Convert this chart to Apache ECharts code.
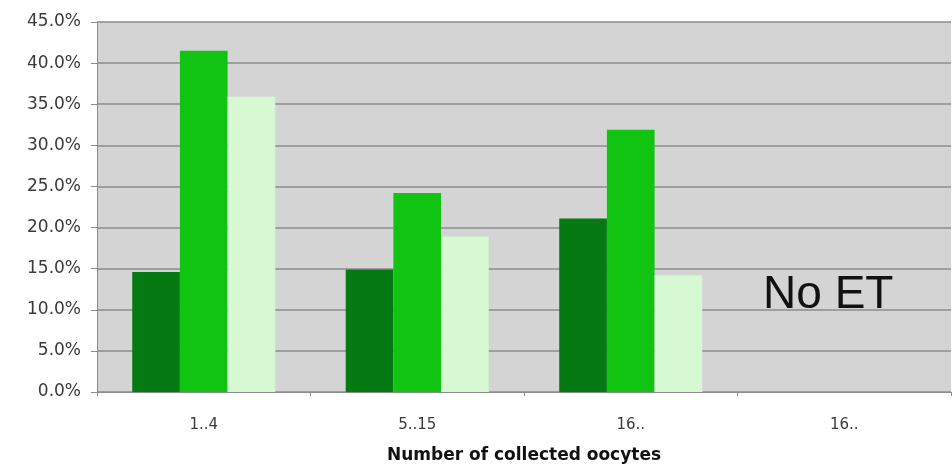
<!DOCTYPE html>
<html>
<head>
<meta charset="utf-8">
<script src="https://cdn.jsdelivr.net/npm/echarts@6/dist/echarts.min.js"></script>
<style>
  html, body { margin: 0; padding: 0; background: #ffffff; }
  #chart { width: 952px; height: 469px; }
</style>
</head>
<body>
<div id="chart"></div>
<script>
// Oocyte-count groups on the x axis
const categories = ['1..4', '5..15', '16..', '16..'];

// Rates (%) per group, three series
const seriesDark  = [14.6, 14.9, 21.1, null];
const seriesMid   = [41.5, 24.2, 31.9, null];
const seriesLight = [35.9, 18.9, 14.2, null];

// Y axis range and step (%)
const yMin = 0;
const yMax = 45;
const yStep = 5;

// Note shown over the last group, which has no bars
const noteText = 'No ET';
const noteCategoryIndex = 3;
const noteLevel = 11.7;

const chart = echarts.init(document.getElementById('chart'), null, { renderer: 'canvas' });

const gridColor = '#8c8c8c';
const labelFont = 'DejaVu Sans, Verdana, sans-serif';

function barSeries(name, data, color) {
  return {
    name: name,
    type: 'bar',
    data: data,
    barGap: '0%',
    barCategoryGap: '33%',
    itemStyle: { color: color },
    emphasis: { disabled: true },
    animation: false
  };
}

chart.setOption({
  backgroundColor: '#ffffff',
  animation: false,
  grid: {
    left: 97,
    right: 1,
    top: 22,
    bottom: 77,
    show: true,
    backgroundColor: '#d4d4d4',
    borderWidth: 0
  },
  xAxis: {
    type: 'category',
    data: categories,
    name: 'Number of collected oocytes',
    nameLocation: 'middle',
    nameGap: 55,
    nameTextStyle: {
      color: '#111111',
      fontFamily: labelFont,
      fontWeight: 'bold',
      fontSize: 17
    },
    axisLine: { show: true, lineStyle: { color: gridColor, width: 1 } },
    axisTick: { show: true, length: 4, lineStyle: { color: gridColor } },
    axisLabel: {
      color: '#3a3a3a',
      fontFamily: labelFont,
      fontSize: 15,
      margin: 26
    },
    splitLine: { show: false }
  },
  yAxis: {
    type: 'value',
    min: yMin,
    max: yMax,
    interval: yStep,
    axisLine: { show: true, lineStyle: { color: gridColor, width: 1 } },
    axisTick: { show: true, length: 6, lineStyle: { color: gridColor } },
    axisLabel: {
      color: '#3a3a3a',
      fontFamily: labelFont,
      fontSize: 17,
      margin: 16,
      formatter: function (v) { return v.toFixed(1) + '%'; }
    },
    splitLine: { show: true, lineStyle: { color: gridColor, width: 1.5 } }
  },
  series: [
    barSeries('dark', seriesDark, '#057a12'),
    barSeries('mid', seriesMid, '#12c412'),
    barSeries('light', seriesLight, '#d6f8d2')
  ]
});

// Place the note at its category / value through the chart's own scales
const notePos = chart.convertToPixel({ gridIndex: 0 }, [noteCategoryIndex, noteLevel]);
chart.setOption({
  graphic: [{
    type: 'text',
    silent: true,
    x: notePos[0] - 16,
    y: notePos[1],
    style: {
      text: noteText,
      fill: '#111111',
      font: '46px "Liberation Sans", Arial, sans-serif',
      align: 'center',
      verticalAlign: 'middle'
    }
  }]
});
</script>
</body>
</html>
